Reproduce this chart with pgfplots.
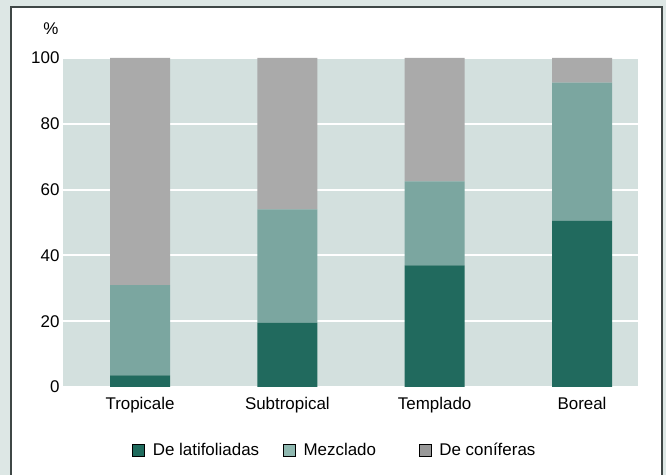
\documentclass[border=0pt]{standalone}
\usepackage{fontspec}
\setmainfont{Liberation Sans}
\usepackage{pgfplots}
\pgfplotsset{compat=1.18}
\definecolor{outerbg}{HTML}{DDE7E5}
\definecolor{plotbg}{HTML}{D3E0DE}
\definecolor{frame}{HTML}{3F4746}
\definecolor{latif}{HTML}{216A5E}
\definecolor{mezcl}{HTML}{7BA6A0}
\definecolor{conif}{HTML}{AAAAAA}
\definecolor{leglatif}{HTML}{1F6B5D}
\definecolor{legmezcl}{HTML}{8FB8B0}
\definecolor{legconif}{HTML}{999999}
\newcommand{\chartfont}{\fontsize{17}{20}\selectfont}
\begin{document}
\begin{tikzpicture}
\useasboundingbox (0,0) rectangle (666bp,475bp);
\fill[outerbg] (0,0) rectangle (666bp,475bp);
\begin{scope}
\clip (0,0) rectangle (666bp,475bp);
\filldraw[fill=white, draw=frame, line width=2.2bp] (11bp,-10bp) rectangle (662bp,468bp);
\end{scope}
\node[font=\chartfont] at (51bp,446bp) {\%};
\begin{axis}[
  at={(63bp,88bp)}, anchor=south west,
  scale only axis, width=575bp, height=329bp,
  xmin=-0.523, xmax=3.38, ymin=0, ymax=100,
  ybar stacked, bar width=60bp,
  axis background/.style={fill=plotbg},
  axis line style={draw=none},
  major tick style={draw=none},
  xtick={0,1,2,3},
  xticklabels={Tropicale,Subtropical,Templado,Boreal},
  ytick={0,20,40,60,80,100},
  ymajorgrids, grid style={white, line width=2bp},
  tick label style={font=\chartfont},
  x tick label style={yshift=-7bp},
  /pgf/number format/assume math mode=true,
  legend columns=3,
  legend style={at={(0.12,-0.1915)}, anchor=west, draw=none, fill=none,
    inner sep=0pt, outer sep=0pt, column sep=0pt, font=\chartfont,
    nodes={inner xsep=8bp, inner ysep=2bp}},
]
\addplot[fill=latif, draw=none,
  legend image code/.code={\draw[fill=leglatif, draw=black, line width=0.8bp] (0bp,-6bp) rectangle (12bp,6bp);}]
  coordinates {(0,3.5) (1,19.5) (2,37) (3,50.5)};
\addlegendentry{\makebox[122bp][l]{De latifoliadas}}
\addplot[fill=mezcl, draw=none,
  legend image code/.code={\draw[fill=legmezcl, draw=black, line width=0.8bp] (0bp,-6bp) rectangle (12bp,6bp);}]
  coordinates {(0,27.5) (1,34.5) (2,25.5) (3,42)};
\addlegendentry{\makebox[107bp][l]{Mezclado}}
\addplot[fill=conif, draw=none,
  legend image code/.code={\draw[fill=legconif, draw=black, line width=0.8bp] (0bp,-6bp) rectangle (12bp,6bp);}]
  coordinates {(0,69) (1,46) (2,37.5) (3,7.5)};
\addlegendentry{De coníferas}
\end{axis}
\end{tikzpicture}
\end{document}
